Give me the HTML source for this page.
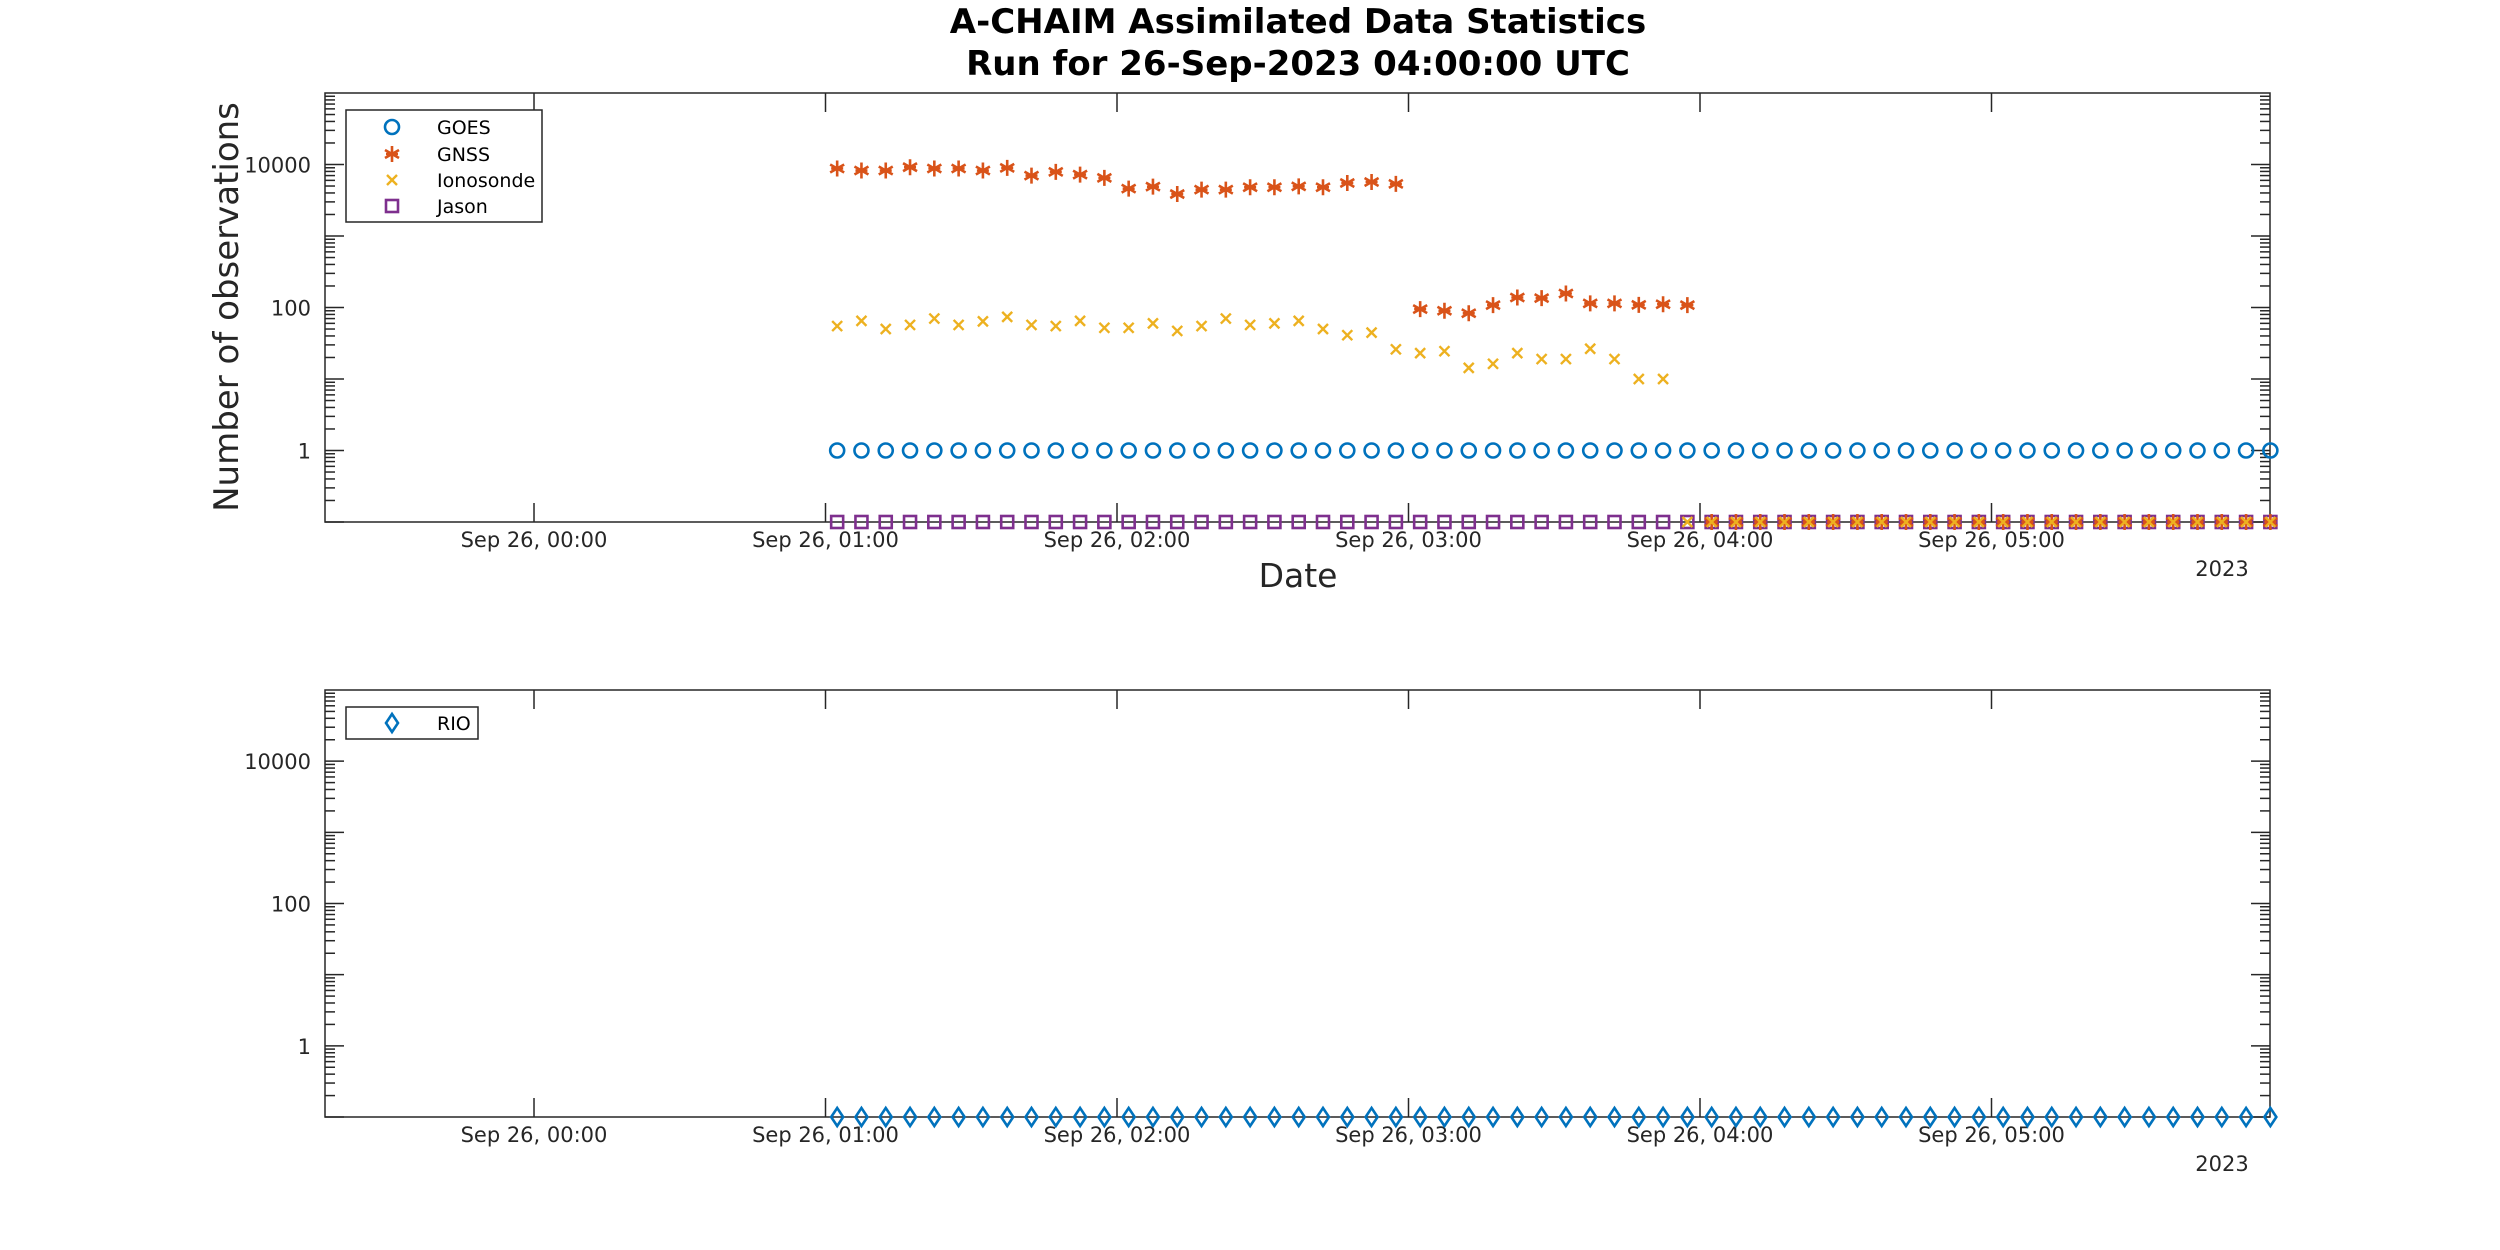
<!DOCTYPE html>
<html><head><meta charset="utf-8"><style>
html,body{margin:0;padding:0;background:#fff;}
svg{display:block;font-family:"DejaVu Sans","Liberation Sans",sans-serif;}
</style></head><body>
<svg id="chart" width="2500" height="1250" viewBox="0 0 2500 1250" xmlns="http://www.w3.org/2000/svg">
<rect width="2500" height="1250" fill="#fff"/>
<text x="1298" y="33" font-size="34" font-weight="bold" text-anchor="middle" fill="#000">A-CHAIM Assimilated Data Statistics</text>
<text x="1298" y="75" font-size="34" font-weight="bold" text-anchor="middle" fill="#000">Run for 26-Sep-2023 04:00:00 UTC</text>
<text transform="translate(238,307) rotate(-90)" font-size="34" text-anchor="middle" fill="#262626">Number of observations</text>
<text x="1298" y="587" font-size="33" text-anchor="middle" fill="#262626">Date</text>
<g id="top"></g>
<g id="bot"></g>
</svg>
<script>
// data (times in hours after Sep 26 00:00)
const tickHours = [0,1,2,3,4,5];
const tickLabels = ["Sep 26, 00:00","Sep 26, 01:00","Sep 26, 02:00","Sep 26, 03:00","Sep 26, 04:00","Sep 26, 05:00"];
const yTicks = [1,100,10000];
const yTickLabels = ["1","100","10000"];
const firstHour = 1.04;
const stepMin = 5;
const nPoints = 60;
const goesValues = Array(60).fill(1);
const gnssValues = [8800,8230,8230,9170,8800,8800,8230,8980,7000,7890,7230,6490,4590,4900,3860,4450,4450,4800,4800,4950,4800,5520,5700,5350,
  95,90,83,108,138,135,157,114,114,109,111,108];
const ionoValues = [55,65,50,57,70,57,64,74,57,55,65,52,52,60,47,55,70,57,60,65,
  50,41,44.5,26,23,24.5,14.3,16.3,23,19,19,26.5,19,10,10];
const jasonValues = Array(60).fill(0.1);
const rioValues = Array(60).fill(0.1);
const FLOOR = 0.1;

const NS="http://www.w3.org/2000/svg";
const X0=325,X1=2270,HMIN=-0.7170,HMAX=5.9554;
function xS(h){return X0+(h-HMIN)/(HMAX-HMIN)*(X1-X0);}
function mk(tag,attrs,parent){const e=document.createElementNS(NS,tag);for(const k in attrs)e.setAttribute(k,attrs[k]);parent.appendChild(e);return e;}
function pointHour(i){return firstHour+i*stepMin/60;}

function axes(g,Y0,Y1){
  const yS=v=>Y1-(Math.log10(Math.max(v,FLOOR))+1)/6*(Y1-Y0);
  for(let d=-1;d<5;d++){for(let m=1;m<10;m++){const v=m*Math.pow(10,d);const y=yS(v);if(y<Y0-0.5)continue;
    const L=(m===1)?19:10;
    const t1=mk('line',{x1:X0,x2:X0+L,y1:y,y2:y,stroke:'#262626','stroke-width':1.5},g);
    
    
    const t2=mk('line',{x1:X1,x2:X1-L,y1:y,y2:y,stroke:'#262626','stroke-width':1.5},g);
    
    }}
  yTicks.forEach((v,i)=>{const t=mk('text',{x:X0-14,y:yS(v)+8,'font-size':21,'text-anchor':'end',fill:'#262626'},g);t.textContent=yTickLabels[i];
    
    });
  tickHours.forEach((h,i)=>{const x=xS(h);
    const a=mk('line',{x1:x,x2:x,y1:Y0,y2:Y0+19,stroke:'#262626','stroke-width':1.5},g);
    
    
    const b=mk('line',{x1:x,x2:x,y1:Y1,y2:Y1-19,stroke:'#262626','stroke-width':1.5},g);
    
    
    const t=mk('text',{x:x,y:Y1+25,'font-size':21,'text-anchor':'middle',fill:'#262626'},g);t.textContent=tickLabels[i];
    
    });
  const yr=mk('text',{x:2222,y:Y1+54,'font-size':21,'text-anchor':'middle',fill:'#262626'},g);yr.textContent='2023';
  
  
  const box=mk('rect',{x:X0,y:Y0,width:X1-X0,height:Y1-Y0,fill:'none',stroke:'#262626','stroke-width':1.5},g);
  
  
  return yS;
}
function marker(g,type,x,y,color){
  let e;
  if(type==='o'){e=mk('circle',{cx:x,cy:y,r:7,fill:'none',stroke:color,'stroke-width':2.6},g);}
  else if(type==='s'){e=mk('rect',{x:x-6,y:y-6,width:12,height:12,fill:'none',stroke:color,'stroke-width':2.6},g);}
  else if(type==='x'){e=mk('path',{d:`M${x-5},${y-5}L${x+5},${y+5}M${x-5},${y+5}L${x+5},${y-5}`,stroke:color,'stroke-width':2.4,fill:'none'},g);}
  else if(type==='*'){e=mk('path',{d:`M${x},${y-8}L${x},${y+8}M${x-7},${y-4}L${x+7},${y+4}M${x-7},${y+4}L${x+7},${y-4}M${x-6},${y}L${x+6},${y}`,stroke:color,'stroke-width':2.6,fill:'none'},g);}
  else if(type==='d'){e=mk('path',{d:`M${x},${y-9}L${x+6},${y}L${x},${y+9}L${x-6},${y}Z`,stroke:color,'stroke-width':2.6,fill:'none'},g);}
  return e;
}
function series(g,yS,vals,type,color,name){
  for(let i=0;i<nPoints;i++){const v=(i<vals.length)?vals[i]:FLOOR;
    const e=marker(g,type,xS(pointHour(i)),yS(v),color);
    
    }
}
function legend(g,x,y,w,h,items){
  const r=mk('rect',{x:x,y:y,width:w,height:h,fill:'#fff',stroke:'#262626','stroke-width':1.5},g);
  
  
  items.forEach(it=>{const m=marker(g,it.t,392,it.y,it.c);
    
    
    const t=mk('text',{x:437,y:it.y+7,'font-size':19,fill:'#000'},g);t.textContent=it.n;
    
    });
}
const topPlot=document.getElementById('top');
const ySt=axes(topPlot,93,522);
series(topPlot,ySt,goesValues,'o','#0072BD','goes');
series(topPlot,ySt,jasonValues,'s','#7E2F8E','jason');
series(topPlot,ySt,gnssValues,'*','#D95319','gnss');
series(topPlot,ySt,ionoValues,'x','#EDB120','ionosonde');
legend(topPlot,346,110,196,112,[{t:'o',c:'#0072BD',n:'GOES',y:127},{t:'*',c:'#D95319',n:'GNSS',y:154},{t:'x',c:'#EDB120',n:'Ionosonde',y:180},{t:'s',c:'#7E2F8E',n:'Jason',y:206}]);
const botPlot=document.getElementById('bot');
const ySb=axes(botPlot,690,1117);
series(botPlot,ySb,rioValues,'d','#0072BD','rio');
legend(botPlot,346,707,132,32,[{t:'d',c:'#0072BD',n:'RIO',y:723}]);
</script>
</body></html>
